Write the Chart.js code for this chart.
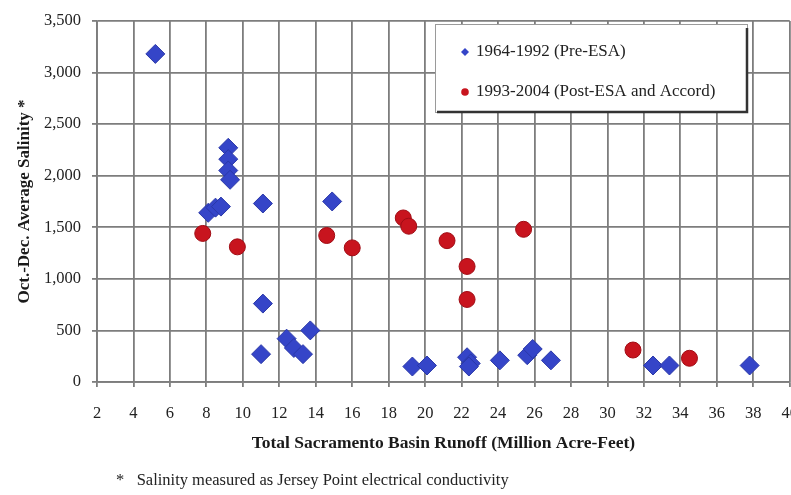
<!DOCTYPE html>
<html>
<head>
<meta charset="utf-8">
<script src="https://cdn.jsdelivr.net/npm/chart.js@4.4.1/dist/chart.umd.min.js"></script>
<style>
  body { margin: 0; overflow: hidden; background: #fff; }
  #wrap { position: absolute; left: 0; top: 0; width: 815px; height: 495px; }
  #note {
    position: absolute; left: 116px; top: 470px;
    font: 16.5px "Liberation Serif", serif; color: #222; white-space: nowrap;
  }
</style>
</head>
<body>
<div id="wrap"><canvas id="chart"></canvas></div>
<div id="note">*&nbsp;&nbsp;&nbsp;Salinity measured as Jersey Point electrical conductivity</div>
<script>
// runoff (million acre-feet) and salinity values
const preLabel = "1964-1992 (Pre-ESA)";
const preX = [5.2, 9.2, 9.2, 9.2, 9.3, 8.1, 8.5, 8.8, 11.1, 14.9, 11.1, 11.0, 12.4, 12.8, 13.3, 13.7,
  19.3, 20.1, 22.3, 22.5, 22.4, 24.1, 25.6, 25.9, 26.9, 32.5, 33.4, 37.8];
const preY = [3180, 2270, 2160, 2050, 1960, 1640, 1690, 1700, 1730, 1750, 760, 270, 420, 330, 270, 500,
  150, 160, 240, 180, 150, 210, 260, 320, 210, 160, 160, 160];

const postLabel = "1993-2004 (Post-ESA and Accord)";
const postX = [7.8, 9.7, 14.6, 16.0, 18.8, 19.1, 21.2, 22.3, 22.3, 25.4, 31.4, 34.5];
const postY = [1440, 1310, 1420, 1300, 1590, 1510, 1370, 1120, 800, 1480, 310, 230];

const xTicks = [2, 40, 2];      // min, max, step
const yTicks = [0, 3500, 500];

const blue = "#3545c8";
const red = "#c8141e";
const gridColor = "#7d7d7d";
const serif = "'Liberation Serif', 'Times New Roman', serif";

function toPoints(xs, ys) {
  return xs.map((x, i) => ({ x: x, y: ys[i] }));
}

// boxed legend drawn inside the plot, like the original
const boxLegend = {
  id: "boxLegend",
  afterDraw(chart) {
    const ctx = chart.ctx;
    const x0 = 435, y0 = 24, w = 312, h = 88;
    ctx.save();
    ctx.fillStyle = "#fff";
    ctx.fillRect(x0, y0, w, h);
    ctx.strokeStyle = "#9a9a9a";
    ctx.lineWidth = 1;
    ctx.strokeRect(x0 + 0.5, y0 + 0.5, w, h);
    ctx.strokeStyle = "#333";
    ctx.lineWidth = 2.5;
    ctx.beginPath();
    ctx.moveTo(x0 + 2, y0 + h);
    ctx.lineTo(x0 + w, y0 + h);
    ctx.lineTo(x0 + w, y0 + 4);
    ctx.stroke();

    ctx.font = "17px " + serif;
    ctx.textBaseline = "middle";
    chart.data.datasets.forEach((ds, i) => {
      const yy = y0 + 28 + i * 40;
      ctx.fillStyle = ds.backgroundColor;
      ctx.beginPath();
      if (ds.pointStyle === "rectRot") {
        ctx.moveTo(465, yy - 4);
        ctx.lineTo(469, yy);
        ctx.lineTo(465, yy + 4);
        ctx.lineTo(461, yy);
        ctx.closePath();
      } else {
        ctx.arc(465, yy, 3.8, 0, Math.PI * 2);
      }
      ctx.fill();
      ctx.fillStyle = "#222";
      ctx.fillText(ds.label, 476, yy);
    });
    ctx.restore();
  },
};

new Chart(document.getElementById("chart"), {
  type: "scatter",
  data: {
    datasets: [
      {
        label: preLabel,
        data: toPoints(preX, preY),
        pointStyle: "rectRot",
        pointRadius: 9.5,
        backgroundColor: blue,
        borderColor: "#2a38a8",
        borderWidth: 1,
      },
      {
        label: postLabel,
        data: toPoints(postX, postY),
        pointStyle: "circle",
        pointRadius: 8,
        backgroundColor: red,
        borderColor: "#a00c14",
        borderWidth: 1,
      },
    ],
  },
  options: {
    responsive: true,
    maintainAspectRatio: false,
    animation: false,
    layout: { padding: { top: 17, left: 0, right: 0, bottom: 30 } },
    plugins: {
      legend: { display: false },
      tooltip: { enabled: false },
    },
    scales: {
      x: {
        type: "linear",
        min: xTicks[0],
        max: xTicks[1],
        ticks: {
          stepSize: xTicks[2],
          padding: 17,
          color: "#222",
          font: { family: serif, size: 16.5 },
        },
        grid: { color: gridColor, lineWidth: 1.8, tickLength: 5 },
        border: { color: gridColor, width: 1.8 },
        title: {
          display: true,
          text: "Total Sacramento Basin Runoff (Million Acre-Feet)",
          color: "#1a1a1a",
          font: { family: serif, size: 17.5, weight: "bold" },
          padding: { top: 4, bottom: 11 },
        },
        afterFit(scale) {
          scale.height = 83;
        },
      },
      y: {
        min: yTicks[0],
        max: yTicks[1],
        ticks: {
          stepSize: yTicks[2],
          padding: 11,
          color: "#222",
          font: { family: serif, size: 16.5 },
          callback: (v) => v.toLocaleString("en-US"),
        },
        grid: { color: gridColor, lineWidth: 1.8, tickLength: 5 },
        border: { color: gridColor, width: 1.8 },
        title: {
          display: true,
          text: "Oct.-Dec. Average Salinity *",
          color: "#1a1a1a",
          font: { family: serif, size: 17, weight: "bold" },
          padding: { top: 14, bottom: 0 },
        },
        afterFit(scale) {
          scale.width = 97;
        },
      },
    },
  },
  plugins: [boxLegend],
});
</script>
</body>
</html>
